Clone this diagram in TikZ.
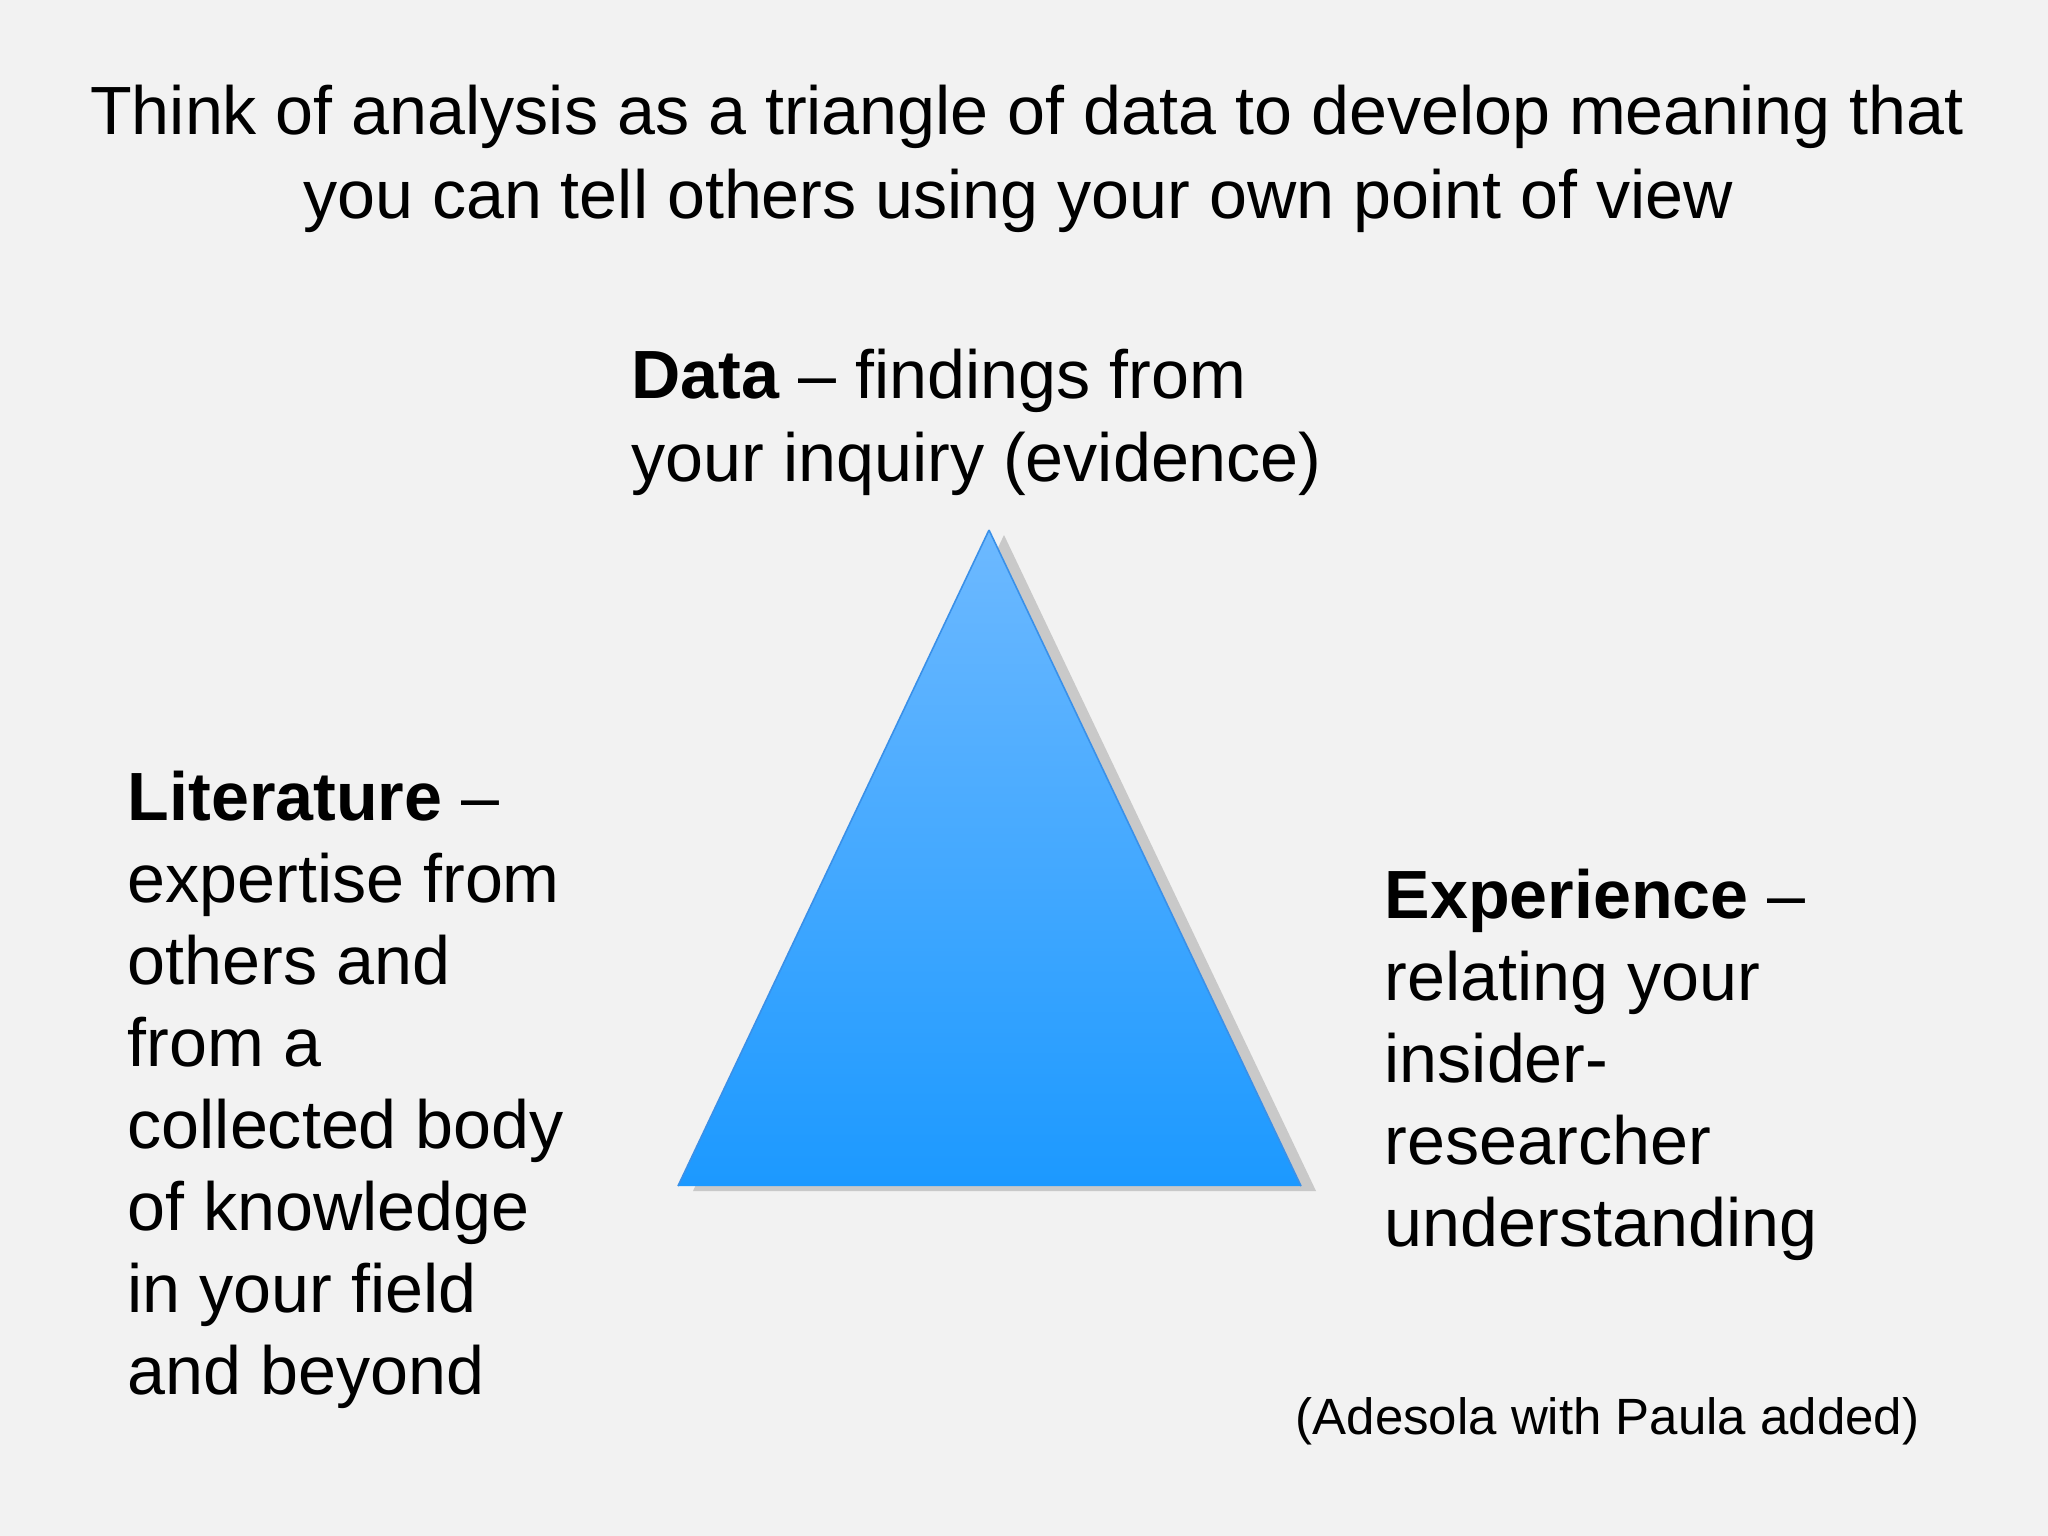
\documentclass[tikz,border=0pt]{standalone}
\usepackage{fontspec}
\setmainfont{Liberation Sans}
\definecolor{bg}{HTML}{F2F2F2}
\definecolor{tritop}{HTML}{6DB9FF}
\definecolor{tribot}{HTML}{1C99FF}
\definecolor{triedge}{HTML}{3A90E8}
\definecolor{shadowc}{HTML}{C9C9C9}
\begin{document}
\begin{tikzpicture}[x=0.01cm,y=-0.01cm,
  titletext/.style={inner sep=0pt,anchor=base,font=\fontsize{19.4pt}{23.3pt}\selectfont},
  body/.style={inner sep=0pt,anchor=base west,font=\fontsize{19.4pt}{23.3pt}\selectfont},
  note/.style={inner sep=0pt,anchor=base east,font=\fontsize{14.5pt}{17.4pt}\selectfont}]
\fill[bg] (0,0) rectangle (2048,1536);
\useasboundingbox (0,0) rectangle (2048,1536);
% title
\node[titletext] (t1) at (1027,134) {Think of analysis as a triangle of data to develop meaning that};
\node[titletext] (t2) at (1018,218) {you can tell others using your own point of view};
% triangle
\coordinate (apex) at (989,530);
\coordinate (bl) at (678,1186);
\coordinate (br) at (1301,1186);
\fill[shadowc] ([shift={(15,5)}]apex) -- ([shift={(15,5)}]bl) -- ([shift={(15,5)}]br) -- cycle;
\shade[top color=tritop,bottom color=tribot] (apex) -- (bl) -- (br) -- cycle;
\draw[triedge,line width=0.45pt,line join=miter] (apex) -- (bl) (apex) -- (br);
% data
\node[body] (d1) at (631,398) {\textbf{Data} – findings from};
\node[body] (d2) at (631,481) {your inquiry (evidence)};
% literature
\node[body] (l1) at (127,820) {\textbf{Literature} –};
\node[body] (l2) at (127,902) {expertise from};
\node[body] (l3) at (127,984) {others and};
\node[body] (l4) at (127,1066) {from a};
\node[body] (l5) at (127,1148) {collected body};
\node[body] (l6) at (127,1230) {of knowledge};
\node[body] (l7) at (127,1312) {in your field};
\node[body] (l8) at (127,1394) {and beyond};
% experience
\node[body] (e1) at (1384,918) {\textbf{Experience} –};
\node[body] (e2) at (1384,1000) {relating your};
\node[body] (e3) at (1384,1082) {insider-};
\node[body] (e4) at (1384,1164) {researcher};
\node[body] (e5) at (1384,1246) {understanding};
% attribution
\node[note] (att) at (1920,1434) {(Adesola with Paula added)};
\end{tikzpicture}
\end{document}
